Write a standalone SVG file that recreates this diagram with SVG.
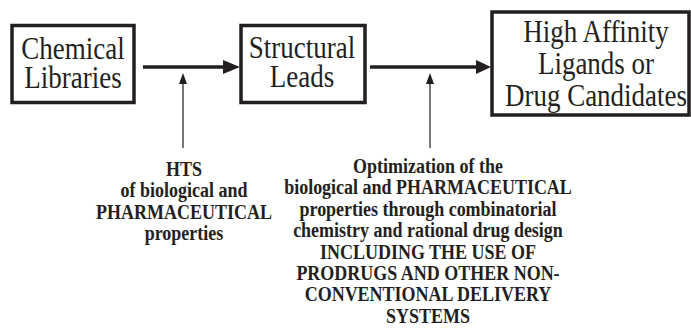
<svg xmlns="http://www.w3.org/2000/svg" width="691" height="333" viewBox="0 0 691 333">
<style>
.box{fill:#fff;stroke:#231f20;stroke-width:3.5}
.big{font-size:27px;fill:#231f20;text-anchor:middle}
.lbl{font-size:18px;font-weight:bold;fill:#231f20;text-anchor:middle}
.main{stroke:#231f20;stroke-width:3.5;fill:none}
.thin{stroke:#4a4a4a;stroke-width:1.5;fill:none}
</style>
<rect width="691" height="333" fill="#fff"/>
<g id="connectors">
<line class="main" x1="143" y1="67" x2="226" y2="67"/>
<polygon points="223,60 240,67 223,74" fill="#231f20"/>
<line class="main" x1="370" y1="67" x2="478" y2="67"/>
<polygon points="476,60 491,67 476,74" fill="#231f20"/>
<line class="thin" x1="183" y1="148" x2="183" y2="82"/>
<polygon points="183,73 187,84 179,84" fill="#231f20"/>
<line class="thin" x1="430" y1="148" x2="430" y2="82"/>
<polygon points="430,73 434,84 426,84" fill="#231f20"/>
</g>
<g id="chemical-libraries">
<rect class="box" x="12" y="25.5" width="122" height="77"/>
<text class="big" font-family="'Liberation Serif', 'Times New Roman', Times, serif" transform="translate(73,59) scale(1,1.15)"><tspan x="0" y="0">Chemical</tspan><tspan x="0" y="25.2">Libraries</tspan></text>
</g>
<g id="structural-leads">
<rect class="box" x="241" y="25.5" width="124" height="77"/>
<text class="big" font-family="'Liberation Serif', 'Times New Roman', Times, serif" transform="translate(302,58) scale(1,1.15)"><tspan x="0" y="0">Structural</tspan><tspan x="0" y="25.2">Leads</tspan></text>
</g>
<g id="high-affinity">
<rect class="box" x="492" y="12" width="197" height="103"/>
<text class="big" font-family="'Liberation Serif', 'Times New Roman', Times, serif" transform="translate(596,42) scale(1,1.15)"><tspan x="0" y="0">High Affinity</tspan><tspan x="0" y="27.8">Ligands or</tspan><tspan x="0" y="55.6">Drug Candidates</tspan></text>
</g>
<g id="hts-label">
<text class="lbl" font-family="'Liberation Serif', 'Times New Roman', Times, serif" transform="translate(184,176) scale(1,1.15)"><tspan x="0" y="0">HTS</tspan><tspan x="0" y="18.6">of biological and</tspan><tspan x="0" y="37.2">PHARMACEUTICAL</tspan><tspan x="0" y="55.8">properties</tspan></text>
</g>
<g id="optimization-label">
<text class="lbl" font-family="'Liberation Serif', 'Times New Roman', Times, serif" transform="translate(428,173) scale(1,1.15)"><tspan x="0" y="0">Optimization of the</tspan><tspan x="0" y="18.6">biological and PHARMACEUTICAL</tspan><tspan x="0" y="37.2">properties through combinatorial</tspan><tspan x="0" y="55.8">chemistry and rational drug design</tspan><tspan x="0" y="74.4">INCLUDING THE USE OF</tspan><tspan x="0" y="93">PRODRUGS AND OTHER NON-</tspan><tspan x="0" y="111.6">CONVENTIONAL DELIVERY</tspan><tspan x="0" y="130.2">SYSTEMS</tspan></text>
</g>
</svg>
